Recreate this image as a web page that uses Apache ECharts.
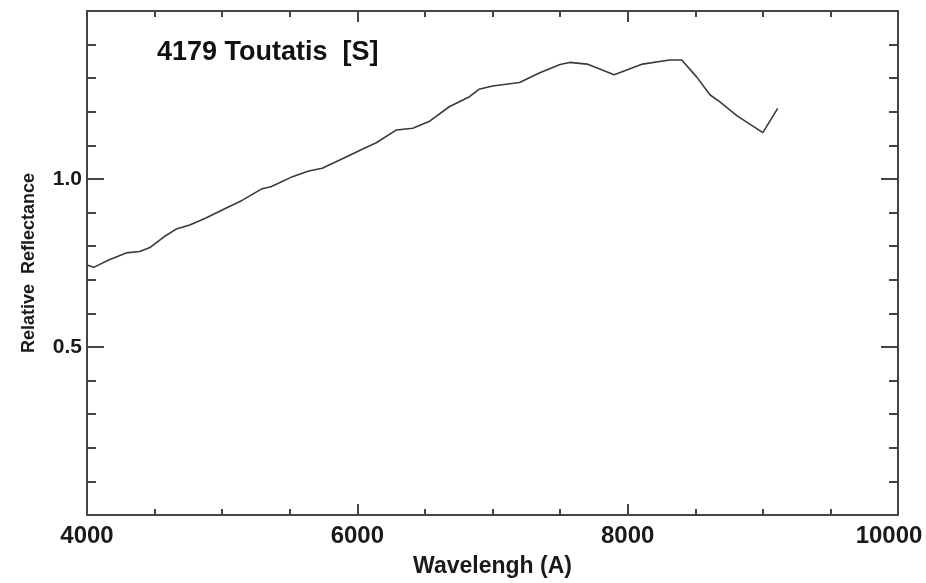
<!DOCTYPE html>
<html>
<head>
<meta charset="utf-8">
<title>4179 Toutatis [S]</title>
<script src="https://cdn.jsdelivr.net/npm/echarts@6/dist/echarts.min.js"></script>
<style>
  html, body { margin: 0; padding: 0; background: #fff; }
  #chart { width: 926px; height: 583px; }
</style>
</head>
<body>
<div id="chart"></div>
<script>
// Reflectance spectrum of asteroid 4179 Toutatis (S-type), normalised.
const wavelengths = [
  4000, 4050, 4160, 4290, 4390, 4470, 4570, 4660, 4760, 4880,
  5000, 5150, 5290, 5360, 5420, 5520, 5640, 5740, 5890, 6040,
  6140, 6290, 6410, 6530, 6680, 6830, 6900, 7000, 7200, 7350,
  7500, 7570, 7700, 7900, 8110, 8310, 8400, 8510, 8610, 8680,
  8810, 9000, 9110
];
const reflectance = [
  0.744, 0.737, 0.759, 0.780, 0.784, 0.797, 0.828, 0.851, 0.863, 0.884,
  0.908, 0.937, 0.970, 0.977, 0.988, 1.007, 1.024, 1.032, 1.060, 1.089,
  1.108, 1.146, 1.151, 1.171, 1.215, 1.245, 1.267, 1.277, 1.287, 1.316,
  1.341, 1.347, 1.342, 1.310, 1.342, 1.354, 1.354, 1.304, 1.250, 1.230,
  1.188, 1.138, 1.210
];
const xTickLabels = ['4000', '6000', '8000', '10000'];
const yTickLabels = ['0.5', '1.0'];

const titleText = '4179 Toutatis  [S]';
const xName = 'Wavelengh (A)';
const yName = 'Relative  Reflectance';

const FONT = '"Liberation Sans", Arial, Helvetica, sans-serif';
const AXIS_COLOR = '#444';

const points = wavelengths.map((w, i) => [w, reflectance[i]]);

const chart = echarts.init(document.getElementById('chart'), null, { renderer: 'canvas' });

const frameAxisLine = { show: true, onZero: false, lineStyle: { color: AXIS_COLOR, width: 2 } };

chart.setOption({
  backgroundColor: '#ffffff',
  animation: false,
  title: {
    text: titleText,
    left: 152,
    top: 34,
    textStyle: { fontFamily: FONT, fontSize: 27, fontWeight: 'bold', color: '#111' }
  },
  grid: { left: 87, right: 28, top: 11, bottom: 67, containLabel: false },
  xAxis: [
    {
      type: 'value',
      position: 'bottom',
      min: 4000, max: 10000, interval: 2000,
      name: xName,
      nameLocation: 'middle',
      nameGap: 40,
      nameTextStyle: { fontFamily: FONT, fontSize: 23, fontWeight: 'bold', color: '#1a1a1a' },
      axisLine: frameAxisLine,
      axisTick: { show: true, inside: true, length: 11, lineStyle: { color: AXIS_COLOR, width: 2 } },
      minorTick: { show: true, splitNumber: 4, length: 6, lineStyle: { color: AXIS_COLOR, width: 2 } },
      splitLine: { show: false },
      minorSplitLine: { show: false },
      axisLabel: {
        show: true, margin: 9,
        fontFamily: FONT, fontSize: 24, fontWeight: 'bold', color: '#1a1a1a',
        formatter: v => {
          const s = String(v);
          if (!xTickLabels.includes(s)) return '';
          return s === '10000' ? '{end|' + s + '}' : s;
        },
        rich: {
          end: { fontFamily: FONT, fontSize: 24, fontWeight: 'bold', color: '#1a1a1a', padding: [0, 18, 0, 0] }
        }
      }
    },
    {
      type: 'value',
      position: 'top',
      min: 4000, max: 10000, interval: 2000,
      axisLine: frameAxisLine,
      axisTick: { show: true, inside: true, length: 11, lineStyle: { color: AXIS_COLOR, width: 2 } },
      minorTick: { show: true, splitNumber: 4, length: 6, lineStyle: { color: AXIS_COLOR, width: 2 } },
      splitLine: { show: false },
      axisLabel: { show: false }
    }
  ],
  yAxis: [
    {
      type: 'value',
      position: 'left',
      min: 0, max: 1.5, interval: 0.5,
      name: yName,
      nameLocation: 'middle',
      nameRotate: 90,
      nameGap: 49,
      nameTextStyle: { fontFamily: FONT, fontSize: 18, fontWeight: 'bold', color: '#1a1a1a' },
      axisLine: frameAxisLine,
      axisTick: { show: true, inside: true, length: 17, lineStyle: { color: AXIS_COLOR, width: 2 } },
      minorTick: { show: true, splitNumber: 5, length: 9, lineStyle: { color: AXIS_COLOR, width: 2 } },
      splitLine: { show: false },
      minorSplitLine: { show: false },
      axisLabel: {
        show: true, margin: 5,
        fontFamily: FONT, fontSize: 21, fontWeight: 'bold', color: '#1a1a1a',
        formatter: v => {
          const s = v.toFixed(1);
          return yTickLabels.includes(s) ? s : '';
        }
      }
    },
    {
      type: 'value',
      position: 'right',
      min: 0, max: 1.5, interval: 0.5,
      axisLine: frameAxisLine,
      axisTick: { show: true, inside: true, length: 17, lineStyle: { color: AXIS_COLOR, width: 2 } },
      minorTick: { show: true, splitNumber: 5, length: 9, lineStyle: { color: AXIS_COLOR, width: 2 } },
      splitLine: { show: false },
      axisLabel: { show: false }
    }
  ],
  series: [
    {
      type: 'line',
      xAxisIndex: 0,
      yAxisIndex: 0,
      data: points,
      showSymbol: false,
      symbol: 'none',
      smooth: false,
      lineStyle: { color: '#3a3a3a', width: 1.6 }
    }
  ]
});
</script>
</body>
</html>
